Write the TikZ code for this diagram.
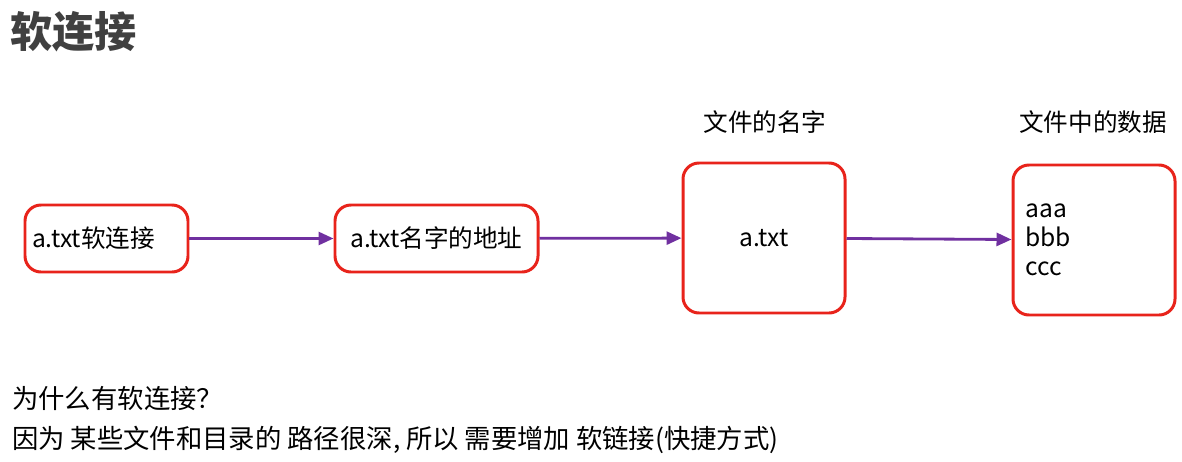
\documentclass[tikz,border=0pt]{standalone}
\usepackage{fontspec}
\usepackage{xcolor}
\usepackage{tikz}
\usetikzlibrary{arrows.meta}
\newfontfamily\cjk{Noto Sans CJK SC}
\definecolor{boxred}{HTML}{E8231B}
\definecolor{linkpurple}{HTML}{7030A0}
\definecolor{titlegray}{HTML}{404040}

\tikzset{
  filebox/.style={draw=boxred, line width=1.7pt, rounded corners=0.32cm,
    font=\cjk\fontsize{14}{17}\selectfont, inner sep=0pt},
  caption/.style={font=\cjk\fontsize{14}{17}\selectfont},
  note/.style={font=\cjk\fontsize{15}{18}\selectfont, anchor=west},
  link/.style={draw=linkpurple, line width=1.6pt,
    -{Triangle[length=0.3cm, width=0.26cm]}}
}

\begin{document}
\begin{tikzpicture}
          \useasboundingbox (0,0) rectangle (23.64,-9.24);
          % Draw title
          \node[anchor=west, text=titlegray, font=\cjk\bfseries\fontsize{24}{28}\selectfont] (title) at (0.08cm,-0.64cm) {软连接};
          % Draw boxes
          \node[filebox, minimum width=3.26cm, minimum height=1.34cm, text width=2.98cm, align=left] (link) at (2.13cm,-4.77cm) {a.txt软连接};
          \node[filebox, minimum width=4.06cm, minimum height=1.34cm] (addr) at (8.73cm,-4.77cm) {a.txt名字的地址};
          \node[filebox, minimum width=3.24cm, minimum height=3.0cm] (name) at (15.28cm,-4.76cm) {a.txt};
          \node[filebox, minimum width=3.24cm, minimum height=3.0cm, text width=2.74cm, align=left, font=\cjk\fontsize{14}{16.5}\selectfont] (data) at (21.88cm,-4.8cm) {aaa\\bbb\\ccc};
          % Draw labels above
          \node[caption] (namelabel) at (15.3cm,-2.44cm) {文件的名字};
          \node[caption] (datalabel) at (21.86cm,-2.44cm) {文件中的数据};
          % Draw arrows
          \draw[link] (link) -- (addr.west);
          \draw[link] (addr) -- (name);
          \draw[link] (name) -- (data);
          % Draw questions
          \node[note] (why) at (0.12cm,-7.96cm) {为什么有软连接？};
          \node[note] (because) at (0.12cm,-8.8cm) {因为 某些文件和目录的 路径很深, 所以 需要增加 软链接(快捷方式)};
        \end{tikzpicture}
\end{document}
